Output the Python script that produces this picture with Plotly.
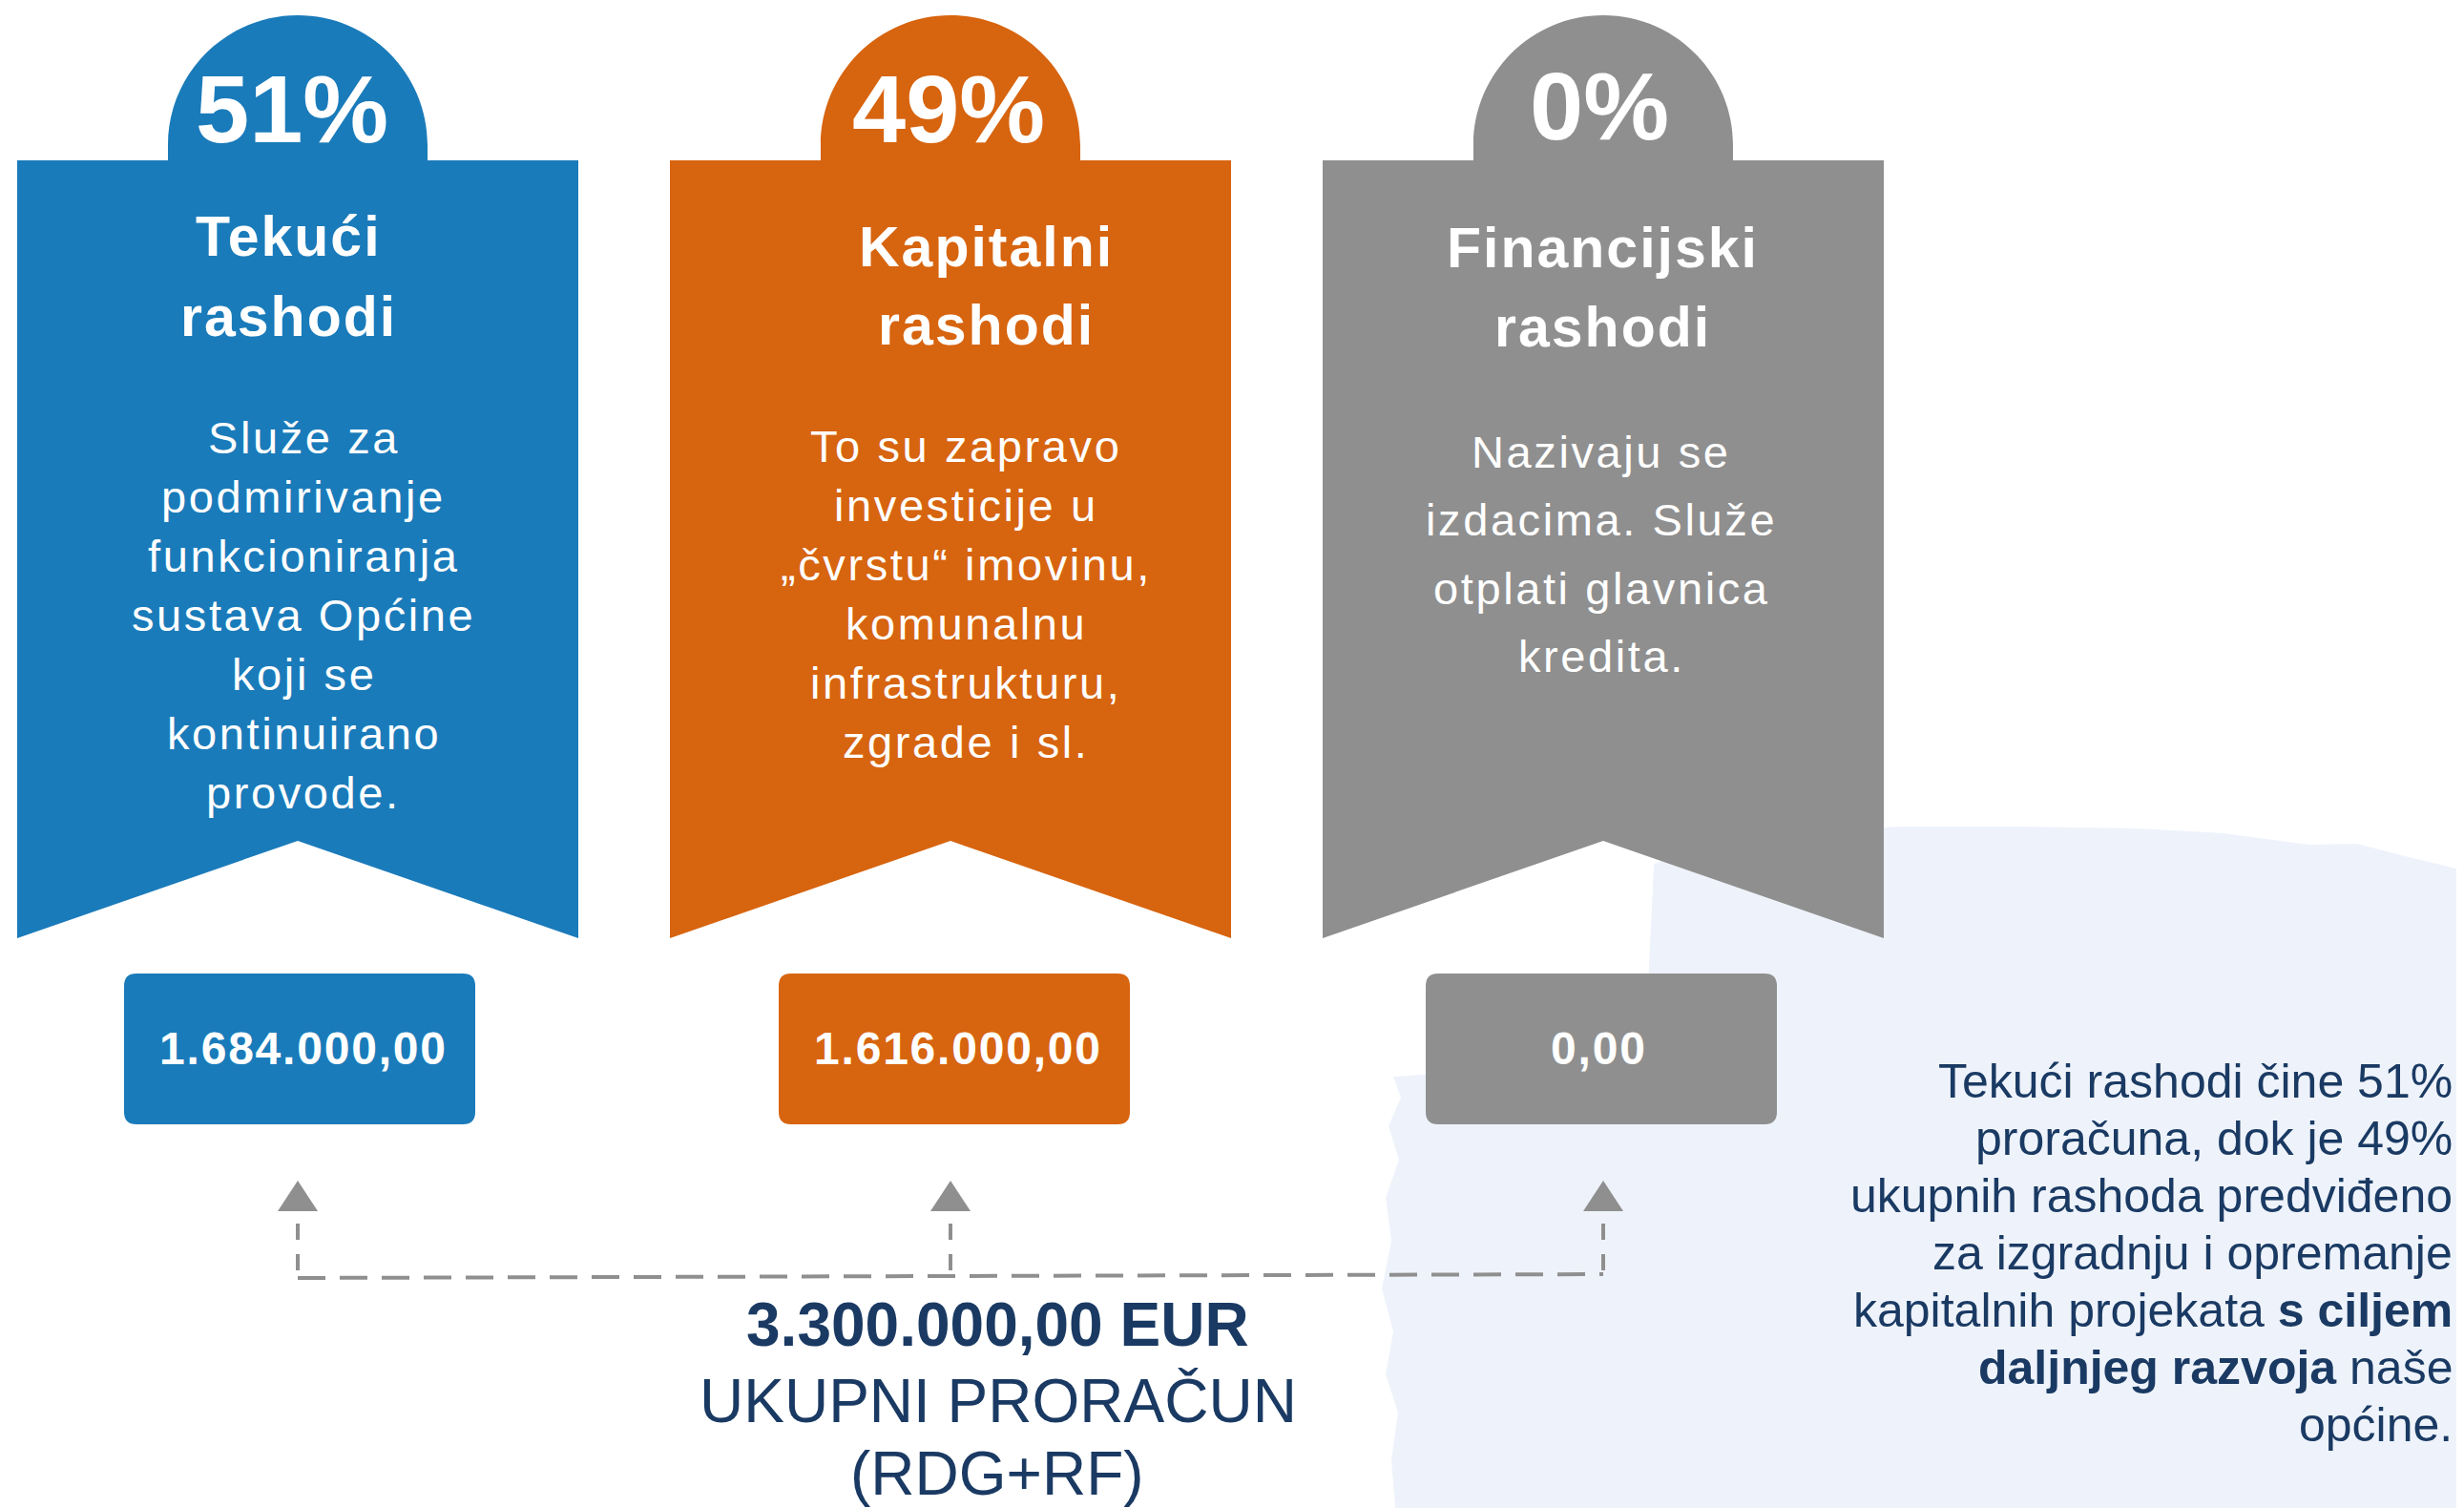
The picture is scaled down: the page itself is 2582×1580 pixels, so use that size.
import plotly.graph_objects as go

# ---- podaci ----
naslovi = [["Tekući", "rashodi"], ["Kapitalni", "rashodi"], ["Financijski", "rashodi"]]
postoci = [51, 49, 0]
iznosi = [1684000.00, 1616000.00, 0.00]
ukupno = 3300000.00
opisi = [
    ["Služe za", "podmirivanje", "funkcioniranja", "sustava Općine", "koji se", "kontinuirano", "provode."],
    ["To su zapravo", "investicije u", "„čvrstu“ imovinu,", "komunalnu", "infrastrukturu,", "zgrade i sl."],
    ["Nazivaju se", "izdacima. Služe", "otplati glavnica", "kredita."],
]
boje = ["#1a7bba", "#d7640f", "#8f8f8f"]

NAVY = "#1a3a63"
SIVA = "#8f8f8f"
W, H = 2582, 1580
M = 8  # margina stranice (body) koju preglednik dodaje
FONT = "Liberation Sans, Arial, sans-serif"


def hr_broj(v):
    s = f"{v:,.2f}"
    return s.replace(",", "X").replace(".", ",").replace("X", ".")


def razmak(txt, px):
    return f'<span style="letter-spacing:{px}px">{txt}</span>'


# ---- raspored (pikseli) ----
cx_banner = [312, 996, 1680]
pola_sirine = 294
vrh, dno, urez = 168, 983, 881
r_kapa, cy_kapa = 136, 152
x_postotak = [306, 994, 1676]
y_postotak = [114, 114, 111]
x_naslov = [302, 1033, 1679]
y_naslov = [[248, 332], [259, 341], [260, 343]]
x_opis = [318, 1012, 1678]
y_opis0 = [458, 467, 473]
korak_opisa = [62, 62, 71.5]
cx_kutija = [314, 1000, 1678]
x_iznos = [318, 1004, 1675]

fig = go.Figure()
shapes = []
ann = []

# svijetla pozadinska mrlja desno dolje
mrlja = [(1733, 905), (1790, 884), (1880, 872), (1990, 866), (2120, 866), (2240, 868),
         (2330, 873), (2420, 885), (2470, 884), (2520, 897), (2582, 912), (2582, 1580),
         (1462, 1580), (1458, 1530), (1465, 1480), (1452, 1440), (1460, 1395), (1448, 1350),
         (1458, 1300), (1452, 1255), (1466, 1215), (1455, 1180), (1468, 1150), (1460, 1128),
         (1726, 1110), (1728, 1010), (1731, 950)]
shapes.append(dict(type="path", layer="below", fillcolor="#eef3fb", line=dict(width=0),
                   path="M " + " L ".join(f"{x},{y}" for x, y in mrlja) + " Z"))

k = 0.5523
for i, cx in enumerate(cx_banner):
    L, R = cx - pola_sirine, cx + pola_sirine
    a, b = cx - r_kapa, cx + r_kapa
    t = cy_kapa - r_kapa
    p = (f"M {L},{dno} L {L},{vrh} L {a},{vrh} L {a},{cy_kapa} "
         f"C {a},{cy_kapa - k * r_kapa} {cx - k * r_kapa},{t} {cx},{t} "
         f"C {cx + k * r_kapa},{t} {b},{cy_kapa - k * r_kapa} {b},{cy_kapa} "
         f"L {b},{vrh} L {R},{vrh} L {R},{dno} L {cx},{urez} Z")
    shapes.append(dict(type="path", path=p, fillcolor=boje[i], line=dict(width=0)))

    # kutija s iznosom
    x0, x1, y0, y1, rr = cx_kutija[i] - 184, cx_kutija[i] + 184, 1020, 1178, 13
    p = (f"M {x0 + rr},{y0} L {x1 - rr},{y0} Q {x1},{y0} {x1},{y0 + rr} "
         f"L {x1},{y1 - rr} Q {x1},{y1} {x1 - rr},{y1} L {x0 + rr},{y1} "
         f"Q {x0},{y1} {x0},{y1 - rr} L {x0},{y0 + rr} Q {x0},{y0} {x0 + rr},{y0} Z")
    shapes.append(dict(type="path", path=p, fillcolor=boje[i], line=dict(width=0)))

    # strelica
    shapes.append(dict(type="path", path=f"M {cx},1237 L {cx + 21},1269 L {cx - 21},1269 Z",
                       fillcolor=SIVA, line=dict(width=0)))
    shapes.append(dict(type="line", x0=cx, x1=cx, y0=1282, y1=1337,
                       line=dict(color=SIVA, width=4, dash="17px,15px")))

    # tekstovi
    ann.append(dict(x=x_postotak[i], y=y_postotak[i], text=f"<b>{postoci[i]}%</b>",
                    font=dict(family=FONT, size=101, color="white")))
    for j, red in enumerate(naslovi[i]):
        ann.append(dict(x=x_naslov[i], y=y_naslov[i][j], text="<b>" + razmak(red, 2) + "</b>",
                        font=dict(family=FONT, size=59, color="white")))
    for j, red in enumerate(opisi[i]):
        ann.append(dict(x=x_opis[i], y=y_opis0[i] + j * korak_opisa[i], text=razmak(red, 2.6),
                        font=dict(family=FONT, size=47, color="white")))
    ann.append(dict(x=x_iznos[i], y=1098, text="<b>" + razmak(hr_broj(iznosi[i]), 1.8) + "</b>",
                    font=dict(family=FONT, size=48, color="white")))

# vodoravna isprekidana linija
shapes.append(dict(type="line", x0=cx_banner[0], x1=cx_banner[-1], y0=1339, y1=1335,
                   line=dict(color=SIVA, width=4, dash="29px,15px")))

# ukupni proračun
ann.append(dict(x=1045, y=1388, text=f"<b>{hr_broj(ukupno)} EUR</b>",
                font=dict(family=FONT, size=64, color=NAVY)))
ann.append(dict(x=1046, y=1468, text="UKUPNI PRORAČUN", font=dict(family=FONT, size=64, color=NAVY)))
ann.append(dict(x=1045, y=1544, text="(RDG+RF)", font=dict(family=FONT, size=64, color=NAVY)))

# desni odlomak
desno = [f"Tekući rashodi čine {postoci[0]}%", f"proračuna, dok je {postoci[1]}%",
         "ukupnih rashoda predviđeno", "za izgradnju i opremanje",
         "kapitalnih projekata <b>s ciljem</b>", "<b>daljnjeg razvoja</b> naše", "općine."]
for j, red in enumerate(desno):
    ann.append(dict(x=2572, y=1133 + j * 60, text=red, xanchor="right",
                    font=dict(family=FONT, size=50, color=NAVY)))

for a in ann:
    a.setdefault("xanchor", "center")
    a.update(xref="x", yref="y", yanchor="middle", showarrow=False)

# slika počinje M piksela od ruba stranice, pa se os pomiče za isto toliko
fig.update_layout(
    width=W - M, height=H - M, margin=dict(l=0, r=0, t=0, b=0),
    paper_bgcolor="white", plot_bgcolor="white",
    xaxis=dict(range=[M, W], visible=False, fixedrange=True),
    yaxis=dict(range=[H, M], visible=False, fixedrange=True),
    shapes=shapes, annotations=ann, showlegend=False,
)

fig.write_html("out.html", config={"displayModeBar": False})
